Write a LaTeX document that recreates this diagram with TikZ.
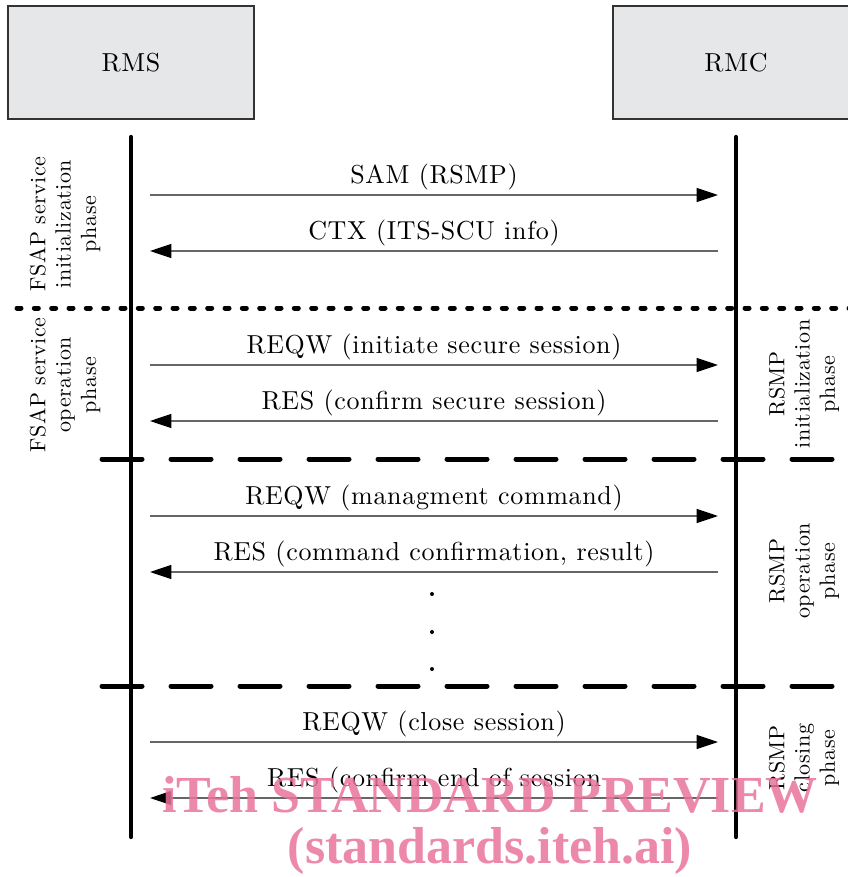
\documentclass[tikz,border=0pt]{standalone}
\usepackage{fontspec}
\newfontfamily\markfont{Liberation Serif}
\newfontfamily\diagfamily{lmroman10-regular.otf}[LetterSpace=2.6]
\usetikzlibrary{arrows.meta}

\definecolor{boxgray}{RGB}{230,231,232}
\definecolor{wmpink}{RGB}{233,115,155}
\newcommand\diagfont{\diagfamily\fontsize{19.5}{19.5}\selectfont}
\newcommand\phasefont{\diagfamily\fontsize{16.5}{19}\selectfont}

\tikzset{
  lifebox/.style={draw=black!80,fill=boxgray,line width=0.9pt,inner sep=0pt,
    minimum width=184.5pt,minimum height=84.75pt,font=\diagfont},
  lifeline/.style={line width=3.2pt,line cap=round},
  msg/.style={draw=black!60,line width=1pt,-{Triangle[length=16pt,width=10.5pt,color=black]}},
  msglabel/.style={font=\diagfont,above=0pt},
  phaselabel/.style={rotate=90,align=center,font=\phasefont},
  dotsep/.style={line width=3.75pt,line cap=round,dash pattern=on 3pt off 10pt},
  dashsep/.style={line width=3.75pt,line cap=round,dash pattern=on 30pt off 21.75pt},
  watermark/.style={text=wmpink,opacity=0.85,font=\markfont\bfseries\fontsize{39}{42}\selectfont}
}

\begin{document}
\begin{tikzpicture}[x=0.75pt,y=-0.75pt]
\useasboundingbox (0,0) rectangle (847,877);

% boxes
\node[lifebox] (rms) at (131,62.5) {RMS};
\node[lifebox] (rmc) at (736,62.5) {RMC};

% lifelines
\coordinate (rms-top) at (131,137);
\coordinate (rms-bot) at (131,837);
\coordinate (rmc-top) at (736,137);
\coordinate (rmc-bot) at (736,837);
\draw[lifeline] (rms-top) -- (rms-bot);
\draw[lifeline] (rmc-top) -- (rmc-bot);

% separators
\coordinate (sep1-l) at (17,308);
\coordinate (sep1-r) at (850,308);
\coordinate (sep2-l) at (102,459);
\coordinate (sep2-r) at (836,459);
\coordinate (sep3-l) at (102,686);
\coordinate (sep3-r) at (836,686);
\draw[dotsep] (sep1-l) -- (sep1-r);
\draw[dashsep] (sep2-l) -- (sep2-r);
\draw[dashsep] (sep3-l) -- (sep3-r);

% messages
\coordinate (m1-l) at (150,195);  \coordinate (m1-r) at (718,195);
\coordinate (m2-l) at (150,251);  \coordinate (m2-r) at (718,251);
\coordinate (m3-l) at (150,365);  \coordinate (m3-r) at (718,365);
\coordinate (m4-l) at (150,421);  \coordinate (m4-r) at (718,421);
\coordinate (m5-l) at (150,516);  \coordinate (m5-r) at (718,516);
\coordinate (m6-l) at (150,572);  \coordinate (m6-r) at (718,572);
\coordinate (m7-l) at (150,742);  \coordinate (m7-r) at (718,742);
\coordinate (m8-l) at (150,798);  \coordinate (m8-r) at (718,798);

\draw[msg] (m1-l) -- node[msglabel] (sam) {SAM (RSMP)} (m1-r);
\draw[msg] (m2-r) -- node[msglabel] (ctx) {CTX (ITS-SCU info)} (m2-l);
\draw[msg] (m3-l) -- node[msglabel] (reqw1) {REQW (initiate secure session)} (m3-r);
\draw[msg] (m4-r) -- node[msglabel] (res1) {RES (confirm secure session)} (m4-l);
\draw[msg] (m5-l) -- node[msglabel] (reqw2) {REQW (managment command)} (m5-r);
\draw[msg] (m6-r) -- node[msglabel] (res2) {RES (command confirmation, result)} (m6-l);
\draw[msg] (m7-l) -- node[msglabel] (reqw3) {REQW (close session)} (m7-r);
\draw[msg] (m8-r) -- node[msglabel] (res3) {RES (confirm end of session} (m8-l);

% more messages
\fill (432,594) circle (1.5pt) (432,632) circle (1.5pt) (432,669) circle (1.5pt);

% phases
\node[phaselabel] (fsap-init) at (65,224) {FSAP service\\initialization\\phase};
\node[phaselabel] (fsap-op) at (65,385) {FSAP service\\operation\\phase};
\node[phaselabel] (rsmp-init) at (804,384) {RSMP\\initialization\\phase};
\node[phaselabel] (rsmp-op) at (804,571) {RSMP\\operation\\phase};
\node[phaselabel] (rsmp-close) at (804,758) {RSMP\\closing\\phase};

% watermark
\node[watermark] (wm1) at (490,795) {iTeh STANDARD PREVIEW};
\node[watermark] (wm2) at (490,851) {(standards.iteh.ai)};
\end{tikzpicture}
\end{document}
